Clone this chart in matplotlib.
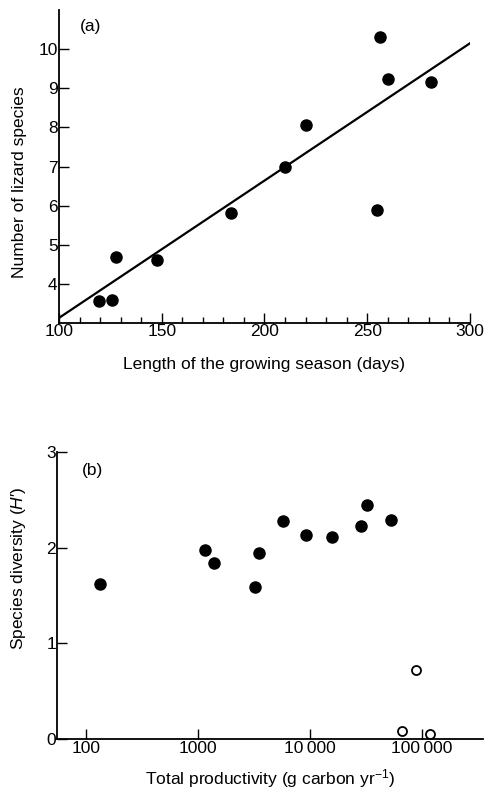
import numpy as np
import matplotlib
matplotlib.use("Agg")
import matplotlib.pyplot as plt
from matplotlib.ticker import MultipleLocator, FixedLocator, FixedFormatter, NullLocator

plt.rcParams['font.family'] = ['Liberation Sans', 'DejaVu Sans']
plt.rcParams['mathtext.fontset'] = 'custom'
plt.rcParams['mathtext.rm'] = 'Liberation Sans'
plt.rcParams['mathtext.it'] = 'Liberation Sans:italic'

# (a) lizard species vs growing season
season_days = [119.7, 125.9, 127.7, 147.8, 183.7, 209.8, 220.0, 255.0, 256.0, 260.0, 281.0]
lizard_species = [3.55, 3.58, 4.68, 4.62, 5.81, 6.98, 8.05, 5.90, 10.32, 9.23, 9.17]
fit_x = [100, 300]
fit_y = [3.13, 10.15]

# (b) species diversity vs productivity
prod_filled = [133, 1164, 1390, 3240, 3520, 5710, 9270, 15600, 28500, 32600, 52800]
div_filled = [1.62, 1.97, 1.84, 1.59, 1.94, 2.28, 2.13, 2.11, 2.22, 2.44, 2.29]
prod_open = [67000, 89000, 117000]
div_open = [0.09, 0.72, 0.05]
prod_ticks = [100, 1000, 10000, 100000]
prod_labels = ['100', '1000', '10\u2009000', '100\u2009000']

fs = 12.5

fig = plt.figure(figsize=(4.85, 7.95), dpi=100)

ax1 = fig.add_axes([0.1216, 0.5937, 0.8474, 0.3937])
ax1.plot(fit_x, fit_y, color='black', lw=1.6)
ax1.plot(season_days, lizard_species, 'o', color='black', ms=8)
ax1.set_xlim(100, 300)
ax1.set_ylim(3, 11)
ax1.xaxis.set_major_locator(MultipleLocator(50))
ax1.xaxis.set_minor_locator(MultipleLocator(10))
ax1.set_yticks([4, 5, 6, 7, 8, 9, 10])
ax1.set_xlabel('Length of the growing season (days)', fontsize=fs)
ax1.set_ylabel('Number of lizard species', fontsize=fs)
ax1.xaxis.set_label_coords(0.5, -0.109)
ax1.yaxis.set_label_coords(-0.078, 0.45)
ax1.text(0.051, 0.946, '(a)', transform=ax1.transAxes, fontsize=fs, va='center')

ax2 = fig.add_axes([0.1181, 0.0701, 0.8777, 0.3618])
ax2.plot(prod_filled, div_filled, 'o', color='black', ms=8, clip_on=False)
ax2.plot(prod_open, div_open, 'o', mfc='white', mec='black', mew=1.3, ms=6.5, clip_on=False)
ax2.set_xscale('log')
ax2.set_xlim(55.5, 351000)
ax2.set_ylim(0, 3)
ax2.xaxis.set_major_locator(FixedLocator(prod_ticks))
ax2.xaxis.set_major_formatter(FixedFormatter(prod_labels))
ax2.xaxis.set_minor_locator(NullLocator())
ax2.set_yticks([0, 1, 2, 3])
ax2.set_xlabel('Total productivity (g carbon yr$^{-1}$)', fontsize=fs)
ax2.set_ylabel("Species diversity ($H$\u2032)", fontsize=fs)
ax2.xaxis.set_label_coords(0.5, -0.096)
ax2.yaxis.set_label_coords(-0.069, 0.596)
ax2.text(0.082, 0.936, '(b)', transform=ax2.transAxes, fontsize=fs, va='center', ha='center')

for ax in (ax1, ax2):
    for s in ('top', 'right'):
        ax.spines[s].set_visible(False)
    for s in ('left', 'bottom'):
        ax.spines[s].set_linewidth(1.3)
    ax.tick_params(which='major', direction='in', length=7, width=1, labelsize=fs, pad=1)
    ax.tick_params(which='minor', direction='in', length=4, width=1)

fig.savefig('out.png', dpi=100)
